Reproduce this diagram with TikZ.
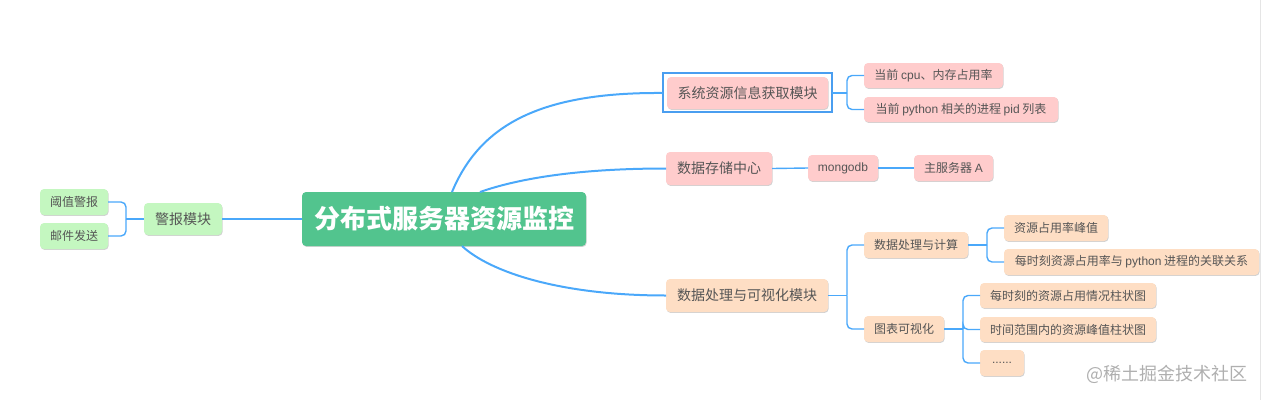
\documentclass[tikz,border=0pt]{standalone}
\usepackage{fontspec}
\setmainfont{Noto Sans CJK SC}
\newfontfamily\lat{Liberation Sans}
\usetikzlibrary{shadows}
\definecolor{rootg}{RGB}{82,196,142}
\definecolor{lgreen}{RGB}{196,247,192}
\definecolor{lpink}{RGB}{255,204,204}
\definecolor{lpeach}{RGB}{254,222,196}
\definecolor{lineblue}{RGB}{74,168,250}
\definecolor{selblue}{RGB}{74,158,240}
\definecolor{txt}{RGB}{85,85,85}
\definecolor{wmgray}{RGB}{175,175,175}
\begin{document}
\begin{tikzpicture}[x=1pt,y=-1pt,
  box/.style={rounded corners=4pt, inner sep=0pt, outer sep=0pt, text=txt,
    drop shadow={shadow xshift=0.6pt, shadow yshift=-0.9pt, opacity=0.18, fill=black}},
  lvA/.style={box, minimum height=32pt, font=\fontsize{14}{16}\selectfont},
  lvB/.style={box, minimum height=26pt, font=\fontsize{12}{14}\selectfont},
  conn/.style={draw=lineblue, line width=2pt},
  br/.style={draw=lineblue, line width=1.4pt, rounded corners=5pt},
]
\useasboundingbox (0,0) rectangle (1262,400);
\draw[black!10, line width=1pt] (1260.5,0) -- (1260.5,400);

% root
\node[box, fill=rootg, text=white, minimum width=284pt, minimum height=54pt,
  font=\fontsize{26}{29}\selectfont\bfseries] (root) at (444,219) {分布式服务器资源监控};

% left
\node[lvA, fill=lgreen, minimum width=78pt] (alarm) at (183,219) {警报模块};
\node[lvB, fill=lgreen, minimum width=68pt] (a1) at (74,202) {阈值警报};
\node[lvB, fill=lgreen, minimum width=68pt] (a2) at (74,236) {邮件发送};

% right level 1
\node[lvA, fill=lpink, minimum width=161pt] (sys) at (747.5,93) {系统资源信息获取模块};
\node[lvA, fill=lpink, minimum width=106pt, minimum height=33pt] (store) at (719,168.5) {数据存储中心};
\node[lvA, fill=lpeach, minimum width=162pt, minimum height=33pt] (proc) at (747,295.5) {数据处理与可视化模块};

\draw[selblue, line width=2pt] ([xshift=-4pt,yshift=4pt]sys.north west) rectangle ([xshift=4pt,yshift=-3pt]sys.south east);

% sys children
\node[lvB, fill=lpink, minimum width=139pt, minimum height=25pt] (s1) at (933.5,75.5) {当前 {\lat cpu}、内存占用率};
\node[lvB, fill=lpink, minimum width=194pt, minimum height=25pt] (s2) at (961,109.5) {当前 {\lat python} 相关的进程 {\lat pid} 列表};

% store chain
\node[lvB, fill=lpink, minimum width=70pt] (mg) at (843,168) {\lat mongodb};
\node[lvB, fill=lpink, minimum width=79pt] (srv) at (953.5,168) {主服务器 {\lat A}};

% proc children
\node[lvB, fill=lpeach, minimum width=104pt] (p1) at (916,245) {数据处理与计算};
\node[lvB, fill=lpeach, minimum width=104pt] (p11) at (1056,228) {资源占用率峰值};
\node[lvB, fill=lpeach, minimum width=255pt] (p12) at (1131.5,262) {每时刻资源占用率与 {\lat python} 进程的关联关系};
\node[lvB, fill=lpeach, minimum width=80pt] (p2) at (904,329) {图表可视化};
\node[lvB, fill=lpeach, minimum width=176pt, minimum height=25pt] (p21) at (1068,295.5) {每时刻的资源占用情况柱状图};
\node[lvB, fill=lpeach, minimum width=176pt, minimum height=25pt] (p22) at (1068,329.5) {时间范围内的资源峰值柱状图};
\node[lvB, fill=lpeach, minimum width=44pt] (p23) at (1002,363) {\lat ......};

% watermark
\node[anchor=west, inner sep=0pt, text=wmgray, font=\fontsize{18}{20}\selectfont] (wm) at (1086,374) {@稀土掘金技术社区};

% root connectors
\draw[conn] (root.west) -- (alarm.east);
\coordinate (rA) at ([xshift=8pt]root.north);
\coordinate (rB) at ([xshift=36pt]root.north);
\coordinate (rC) at ([xshift=18pt]root.south);
\draw[conn] (rA) .. controls (480,125) and (540,92) .. ([xshift=-4pt]sys.west);
\draw[conn] (rB) .. controls (520,178) and (580,168.5) .. (store.west);
\draw[conn] (rC) .. controls (490,272) and (560,295.5) .. (proc.west);

% brackets
\coordinate (ja) at (126,219);
\draw[br] (alarm.west) -- (ja);
\draw[br] (ja) |- (a1.east);
\draw[br] (ja) |- (a2.east);

\coordinate (js) at (847,93);
\draw[br] ([xshift=4pt]sys.east) -- (js);
\draw[br] (js) |- (s1.west);
\draw[br] (js) |- (s2.west);

\draw[br] (store.east) -- (mg.west);
\draw[br] (mg.east) -- (srv.west);

\coordinate (jp) at (847,295.5);
\draw[br] (proc.east) -- (jp);
\draw[br] (jp) |- (p1.west);
\draw[br] (jp) |- (p2.west);

\coordinate (jp1) at (987,245);
\draw[br] (p1.east) -- (jp1);
\draw[br] (jp1) |- (p11.west);
\draw[br] (jp1) |- (p12.west);

\coordinate (jp2) at (963,329);
\draw[br] (p2.east) -- (jp2);
\draw[br] (jp2) |- (p21.west);
\draw[br] (jp2) |- (p22.west);
\draw[br] (jp2) |- (p23.west);
\end{tikzpicture}
\end{document}
